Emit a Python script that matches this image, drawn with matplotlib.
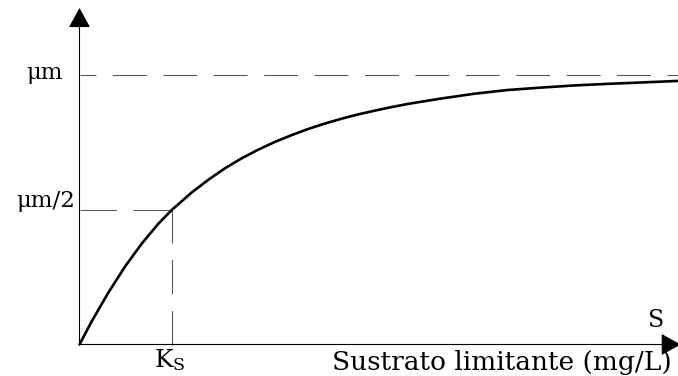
import matplotlib
matplotlib.use("Agg")
import matplotlib.pyplot as plt
from matplotlib.patches import ArrowStyle

# Substrate concentration (in units of Ks) and specific growth rate (in units of mu_m)
substrate = [0.0, 0.132, 0.311, 0.492, 0.672, 0.852, 1.0, 1.213, 1.392, 1.573,
             1.754, 1.933, 2.114, 2.294, 2.474, 2.654, 2.835, 3.014, 3.195,
             3.375, 3.555, 3.735, 3.916, 4.059, 4.257, 4.618, 4.978, 5.338,
             5.699, 6.059, 6.465]
growth = [0.0, 0.086, 0.192, 0.289, 0.374, 0.448, 0.5, 0.564, 0.611, 0.654,
          0.691, 0.723, 0.752, 0.777, 0.800, 0.820, 0.838, 0.854, 0.868,
          0.881, 0.893, 0.903, 0.913, 0.920, 0.930, 0.944, 0.953, 0.961,
          0.967, 0.972, 0.978]

mu_max = 1.0
ks = 1.0
axis_label = "Sustrato limitante (mg/L)"
mu_label = "\u03bcm"
half_label = "\u03bcm/2"
ks_label = r"$\mathrm{K_S}$"
s_label = "S"

W, H = 678, 376
X0, Y0 = 79.5, 344.5      # origin of the axes in pixels
SX, SY = 92.5, 269.5      # pixels per Ks and per mu_m

plt.rcParams["mathtext.fontset"] = "dejavuserif"
fig = plt.figure(figsize=(W / 100, H / 100), dpi=100)
ax = fig.add_axes([0, 0, 1, 1])
ax.set_xlim(-X0 / SX, (W - X0) / SX)
ax.set_ylim((Y0 - H) / SY, Y0 / SY)
ax.axis("off")

x_end = (W - X0) / SX
y_end = (Y0 - 8) / SY

# Guide lines for mu_m, mu_m/2 and Ks
dash_col = "#555555"
ax.plot([0, x_end], [mu_max, mu_max], color=dash_col, lw=0.75,
        linestyle=(17.3, (32.6, 15.8)))
ax.plot([0, ks], [mu_max / 2, mu_max / 2], color=dash_col, lw=0.75,
        linestyle=(0, (35, 16)))
ax.plot([ks, ks], [0, mu_max / 2], color=dash_col, lw=0.75,
        linestyle=(0, (33, 16)))

# Growth curve
ax.plot(substrate, growth, color="black", lw=1.9, solid_capstyle="round",
        solid_joinstyle="round")

# Axes with arrowheads
head = ArrowStyle("-|>", head_length=1.0, head_width=0.55)
ax.annotate("", xy=(0, y_end), xytext=(0, 0), annotation_clip=False,
            arrowprops=dict(arrowstyle=head, mutation_scale=12.5, lw=0.8,
                            color="black", shrinkA=0, shrinkB=0))
ax.annotate("", xy=(x_end + 0.03, 0), xytext=(0, 0), annotation_clip=False,
            arrowprops=dict(arrowstyle=head, mutation_scale=12.5, lw=0.8,
                            color="black", shrinkA=0, shrinkB=0))

serif = "DejaVu Serif"


def px(x, y):
    return x / W, 1 - y / H


ax.text(*px(44, 79), mu_label, transform=ax.transAxes, ha="center",
        va="baseline", fontsize=16.5, family=serif)
ax.text(*px(75, 207), half_label, transform=ax.transAxes, ha="right",
        va="baseline", fontsize=16.5, family=serif)
ax.text(*px(154, 367), ks_label, transform=ax.transAxes, ha="left",
        va="baseline", fontsize=18, family=serif)
ax.text(*px(656, 327), s_label, transform=ax.transAxes, ha="center",
        va="baseline", fontsize=17, family=serif)
ax.text(*px(332, 370), axis_label, transform=ax.transAxes, ha="left",
        va="baseline", fontsize=19, family=serif)

fig.savefig("out.png", dpi=100, facecolor="white")
